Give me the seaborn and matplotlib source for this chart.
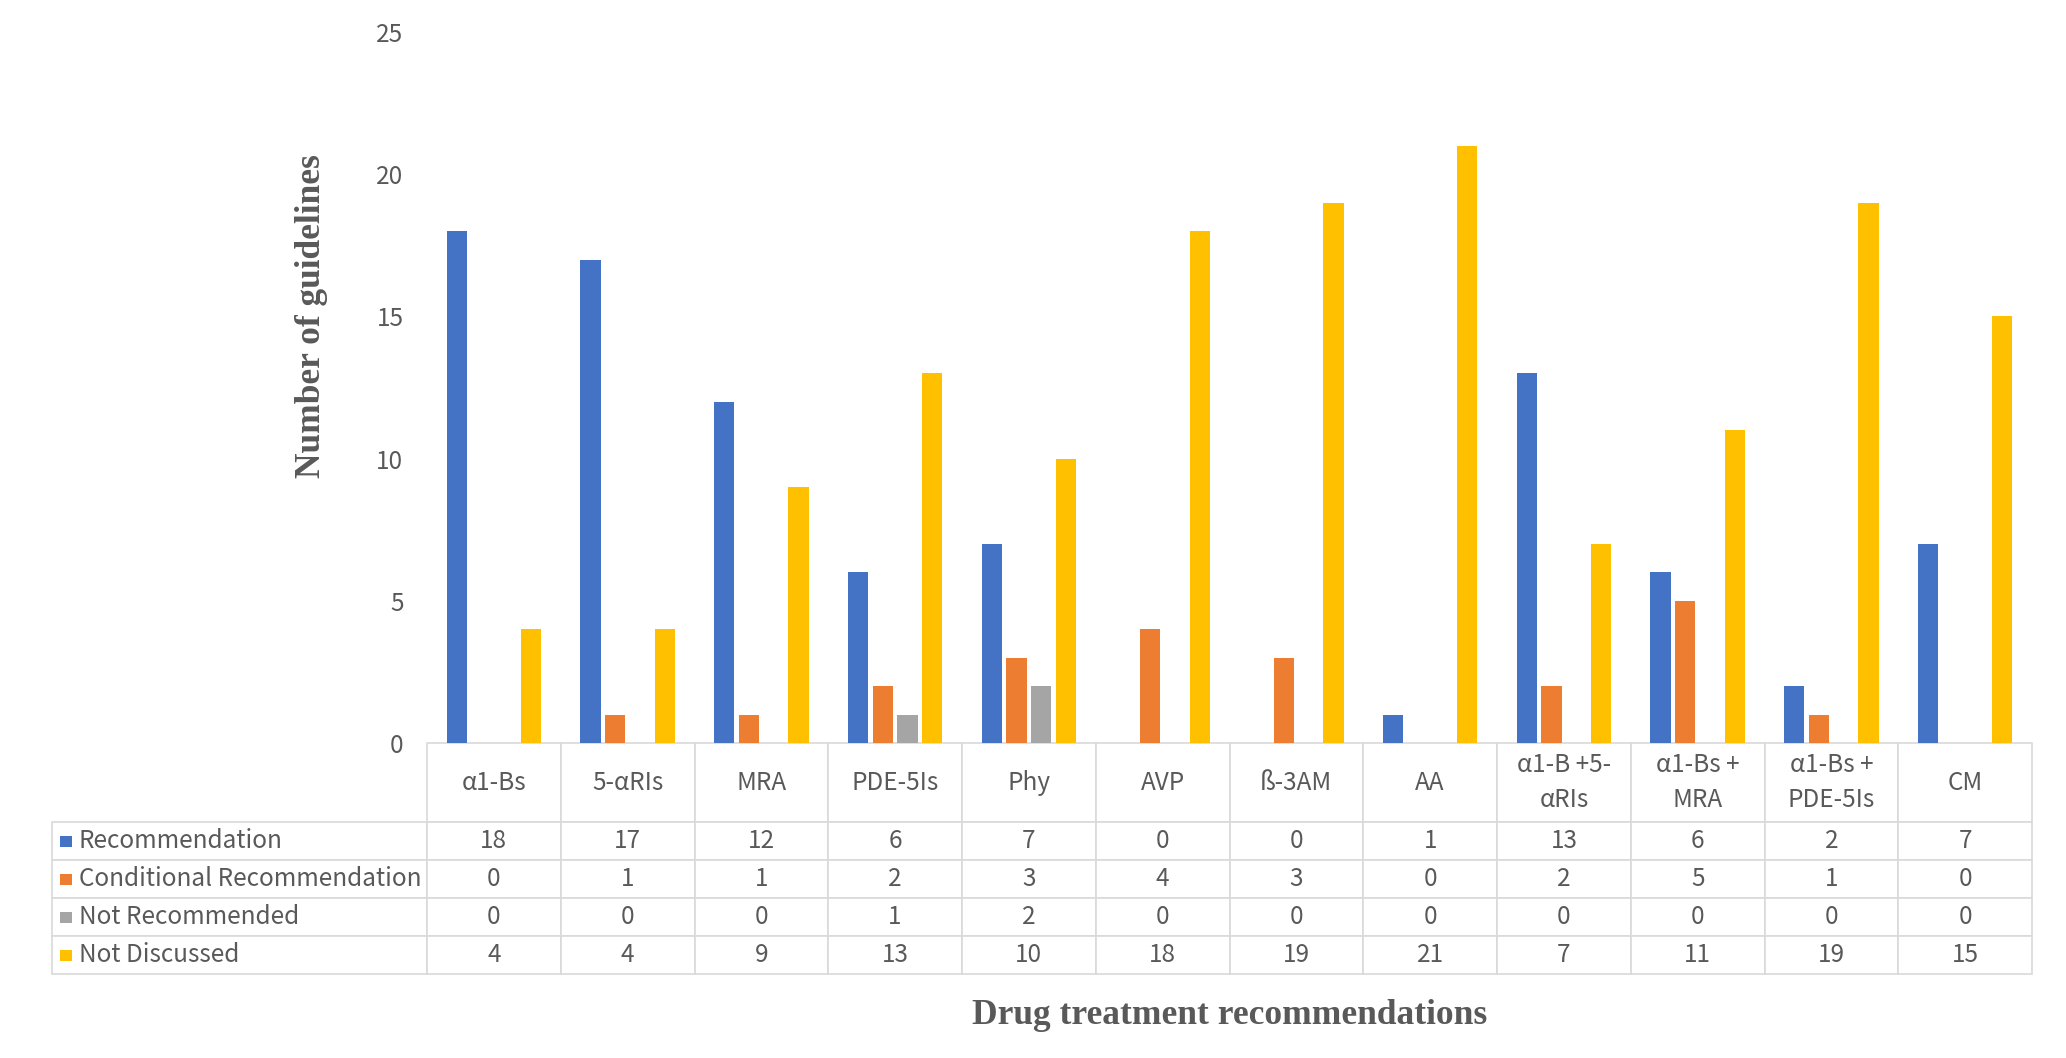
import numpy as np
import pandas as pd
import seaborn as sns
import matplotlib.pyplot as plt
from matplotlib.patches import Rectangle
from matplotlib.table import Table

# data
drugs = ["α1-Bs", "5-αRIs", "MRA", "PDE-5Is", "Phy", "AVP", "ß-3AM", "AA",
         "α1-B +5-\nαRIs", "α1-Bs +\nMRA", "α1-Bs +\nPDE-5Is", "CM"]
series = ["Recommendation", "Conditional Recommendation", "Not Recommended", "Not Discussed"]
recommendation = [18, 17, 12, 6, 7, 0, 0, 1, 13, 6, 2, 7]
conditional = [0, 1, 1, 2, 3, 4, 3, 0, 2, 5, 1, 0]
not_recommended = [0, 0, 0, 1, 2, 0, 0, 0, 0, 0, 0, 0]
not_discussed = [4, 4, 9, 13, 10, 18, 19, 21, 7, 11, 19, 15]
colors = ["#4472C4", "#ED7D31", "#A5A5A5", "#FFC000"]

values = [recommendation, conditional, not_recommended, not_discussed]
df = pd.DataFrame({
    "drug": np.tile(drugs, len(series)),
    "series": np.repeat(series, len(drugs)),
    "count": np.concatenate(values),
})

sns.set_style("white")
plt.rcParams["font.family"] = ["Noto Sans CJK SC", "DejaVu Sans"]
grey = "#595959"

W, H = 2066, 1058
fig = plt.figure(figsize=(W / 100, H / 100), dpi=100)
# axes box in pixels
ax_l, ax_r, ax_t, ax_b = 427, 2032, 32, 743
ax = fig.add_axes([ax_l / W, 1 - ax_b / H, (ax_r - ax_l) / W, (ax_b - ax_t) / H])

sns.barplot(data=df, x="drug", y="count", hue="series", order=drugs, hue_order=series,
            palette=colors, saturation=1, width=0.74, gap=0.19, errorbar=None,
            linewidth=0, legend=False, ax=ax)

ax.set_xlim(-0.5, len(drugs) - 0.5)
ax.set_ylim(0, 25)
ax.set_yticks(range(0, 26, 5))
ax.set_xticks([])
ax.set_xlabel("")
ax.set_ylabel("")
ax.tick_params(axis="y", length=0, pad=17, labelsize=17.5, labelcolor=grey)
for s in ax.spines.values():
    s.set_visible(False)

# data table under the bars
ax_w, ax_h = ax_r - ax_l, ax_b - ax_t
header_h, row_h = 79, 38
label_left = 52
tbl_h = header_h + row_h * len(series)
tbl = Table(ax, bbox=[0, -tbl_h / ax_h, 1, tbl_h / ax_h])
col_w = 1 / len(drugs)
lab_w = (ax_l - label_left) / ax_w
for j, name in enumerate(drugs):
    tbl.add_cell(0, j, width=col_w, height=header_h / ax_h, text=name, loc="center")
for i, (name, row) in enumerate(zip(series, values)):
    c = tbl.add_cell(i + 1, -1, width=lab_w, height=row_h / ax_h, text=name, loc="left")
    c.PAD = 27 / (ax_l - label_left)
    for j, v in enumerate(row):
        tbl.add_cell(i + 1, j, width=col_w, height=row_h / ax_h, text=str(v), loc="center")
tbl.auto_set_font_size(False)
tbl.set_fontsize(17.5)
for cell in tbl.get_celld().values():
    cell.set_edgecolor("#D9D9D9")
    cell.set_linewidth(1.2)
    cell.get_text().set_color(grey)
    cell.get_text().set_linespacing(1.45)
ax.add_table(tbl)

# colour keys in the row labels
for i, col in enumerate(colors):
    yc = ax_b + header_h + row_h * (i + 0.5)
    ax.add_patch(Rectangle(((60 - ax_l) / ax_w, (ax_b - yc - 5.5) / ax_h), 12 / ax_w, 11 / ax_h,
                           transform=ax.transAxes, facecolor=col, edgecolor="none", clip_on=False))

fig.text(312 / W, 1 - 316 / H, "Number of guidelines", rotation=90, ha="center", va="center",
         family="Liberation Serif", weight="bold", fontsize=25.5, color=grey)
fig.text((ax_l + ax_r) / 2 / W, 1 - 1015 / H, "Drug treatment recommendations", ha="center",
         va="center", family="Liberation Serif", weight="bold", fontsize=25.5, color=grey)

fig.savefig("out.png", dpi=100, facecolor="white")
